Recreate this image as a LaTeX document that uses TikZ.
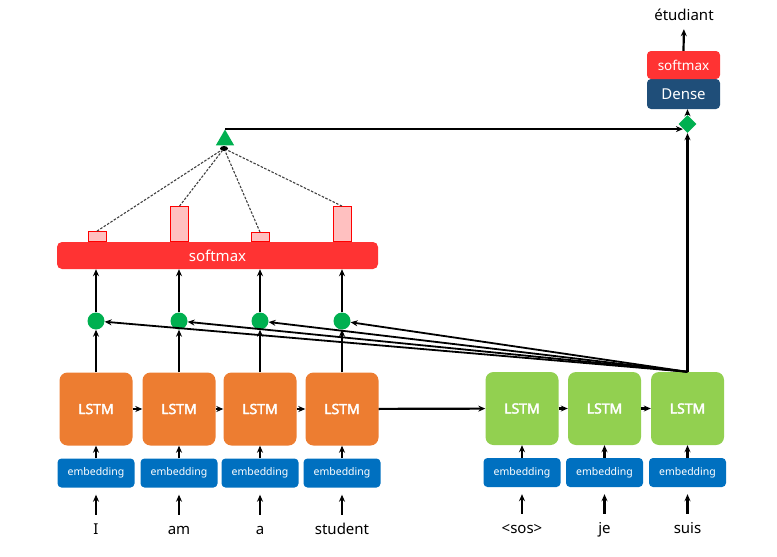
\documentclass[tikz,border=0pt]{standalone}
\usepackage{fontspec}
\setmainfont{Noto Sans}
\newfontfamily\lstmfont[FakeBold=2.5]{Noto Sans}
\usetikzlibrary{shapes.geometric,arrows.meta,calc}
\definecolor{lorange}{HTML}{ED7D31}
\definecolor{lgreen}{HTML}{92D050}
\definecolor{embblue}{HTML}{0070C0}
\definecolor{smred}{HTML}{FF3333}
\definecolor{dotgreen}{HTML}{00B050}
\definecolor{barpink}{HTML}{FFC0C0}
\definecolor{densebl}{HTML}{1F4E79}
\tikzset{
  lstmbox/.style={rounded corners=8pt, minimum width=73pt, minimum height=73pt, text=white, font=\fontsize{14}{16}\lstmfont, inner sep=0pt},
  encbox/.style={lstmbox, fill=lorange},
  decbox/.style={lstmbox, fill=lgreen},
  embbox/.style={fill=embblue, rounded corners=4pt, minimum width=77pt, minimum height=29pt, text=white, font=\fontsize{10.5}{12}\selectfont, inner sep=0pt},
  word/.style={font=\fontsize{15}{18}\selectfont, text height=11pt, text depth=3pt, inner sep=1pt},
  arr/.style={-{Stealth[length=7pt,width=6pt]}, line width=2.2pt},
  attdot/.style={circle, fill=dotgreen, minimum size=17pt, inner sep=0pt},
  bar/.style={draw=red, fill=barpink, line width=0.9pt, minimum width=18pt, inner sep=0pt, anchor=south},
  dashln/.style={dash pattern=on 2.5pt off 1.5pt, line width=1.1pt, draw=black!75},
}
\begin{document}
\begin{tikzpicture}[x=1pt,y=-1pt]
\useasboundingbox (0,0) rectangle (777,557);
% encoder
\foreach \i/\x/\w in {1/96/I,2/179/am,3/260/a,4/342/student}{
  \node[encbox] (enc\i) at (\x,409) {LSTM};
  \node[embbox] (emb\i) at (\x,473) {embedding};
  \node[word] (w\i) at (\x,530) {\w};
  \node[attdot] (c\i) at (\x,321) {};
  \draw[arr] (emb\i) -- (enc\i);
  \draw[arr, shorten <=7pt, shorten >=7pt] (w\i) -- (emb\i);
  \draw[arr] (enc\i) -- (c\i);
}
% decoder
\foreach \i/\x/\w in {1/522/{<sos>},2/604.5/je,3/687.5/suis}{
  \node[decbox] (dec\i) at (\x,408.5) {LSTM};
  \node[embbox] (demb\i) at (\x,472.5) {embedding};
  \node[word] (dw\i) at (\x,529) {\w};
  \draw[arr] (demb\i) -- (dec\i);
  \draw[arr, shorten <=7pt, shorten >=7pt] (dw\i) -- (demb\i);
}
\draw[arr] (enc1) -- (enc2);
\draw[arr] (enc2) -- (enc3);
\draw[arr] (enc3) -- (enc4);
\draw[arr] (enc4) -- (dec1);
\draw[arr] (dec1) -- (dec2);
\draw[arr] (dec2) -- (dec3);
% softmax bar
\node[fill=smred, rounded corners=5pt, minimum width=321pt, minimum height=27pt, inner sep=0pt, text=white, font=\fontsize{15}{18}\selectfont] (sm) at (217.5,255.5) {softmax};
\foreach \i in {1,...,4}{
  \draw[arr] (c\i) -- (c\i |- sm.south);
}
% attention bars
\node[bar, minimum height=10pt] (b1) at (97,242) {};
\node[bar, minimum height=35pt] (b2) at (179.5,242) {};
\node[bar, minimum height=9pt] (b3) at (260,242) {};
\node[bar, minimum height=35pt] (b4) at (342,242) {};
% triangle and point
\node[regular polygon, regular polygon sides=3, minimum size=21pt, fill=dotgreen, inner sep=0pt] (tri) at (225,140) {};
\node[ellipse, fill=black, minimum width=8pt, minimum height=5pt, inner sep=0pt] (pt) at (224,148.5) {};
\foreach \i in {1,...,4}{
  \draw[dashln] (b\i.north) -- (pt);
}
% attention lines from decoder
\foreach \i in {1,...,4}{
  \draw[arr, line width=1.8pt] (dec3.north) -- (c\i);
}
% output part
\node[diamond, fill=dotgreen, minimum width=18pt, minimum height=18pt, inner sep=0pt] (dia) at (687.5,124) {};
\node[fill=densebl, rounded corners=4pt, minimum width=73pt, minimum height=30pt, inner sep=0pt, text=white, font=\fontsize{15}{18}\selectfont] (dense) at (683.5,94) {Dense};
\node[fill=smred, rounded corners=4pt, minimum width=73pt, minimum height=28pt, inner sep=0pt, text=white, font=\fontsize{13.5}{16}\selectfont] (sm2) at (683.5,65) {softmax};
\node[word] (out) at (684,16) {étudiant};
\draw[arr] (dec3.north) -- (dia.south);
\draw[arr] (tri.corner 1) -- (tri.corner 1 -| dia.south west);
\draw[arr] (dia.north) -- (dia.north |- dense.south);
\draw[arr, shorten >=5pt] (sm2.north) -- (out.south);
\end{tikzpicture}
\end{document}
